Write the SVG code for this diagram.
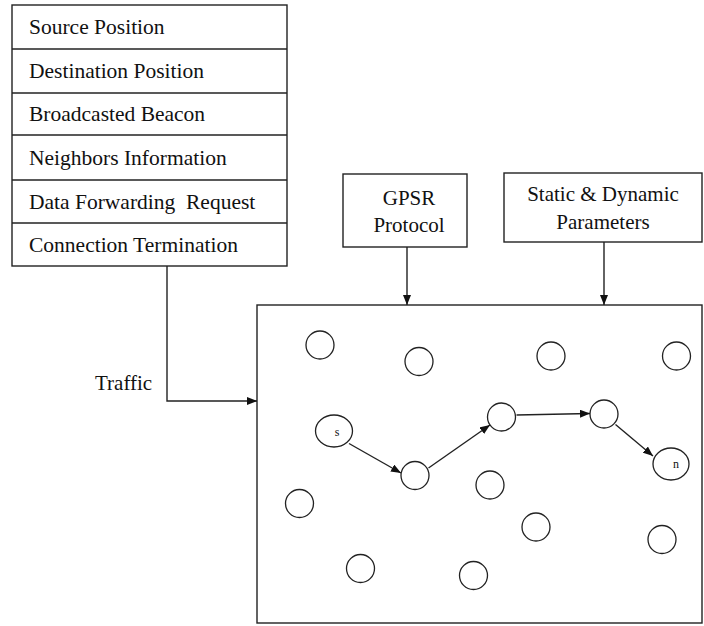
<svg xmlns="http://www.w3.org/2000/svg" width="704" height="626" viewBox="0 0 704 626">
<style>
.box{fill:#fff;stroke:#222;stroke-width:1.4}
.ln{fill:none;stroke:#222;stroke-width:1.4}
.nd{fill:#fff;stroke:#222;stroke-width:1.3}
.t{font-family:"Liberation Serif","Times New Roman",serif;font-size:21.5px;fill:#111}
.t2{font-family:"Liberation Serif","Times New Roman",serif;font-size:21px;fill:#111}
.c{text-anchor:middle}
.sm{font-family:"Liberation Serif","Times New Roman",serif;font-size:12px;fill:#111;text-anchor:middle}
</style>
<defs>
<marker id="ah" markerWidth="10" markerHeight="8" refX="10" refY="4" orient="auto" markerUnits="userSpaceOnUse">
<path d="M0,0 L10,4 L0,8 Z" fill="#111"/>
</marker>
</defs>
<g id="table">
<rect class="box" x="12" y="5" width="275" height="261"/>
<line class="ln" x1="12" y1="49" x2="287" y2="49"/>
<line class="ln" x1="12" y1="93" x2="287" y2="93"/>
<line class="ln" x1="12" y1="135" x2="287" y2="135"/>
<line class="ln" x1="12" y1="180" x2="287" y2="180"/>
<line class="ln" x1="12" y1="223" x2="287" y2="223"/>
<text class="t" x="29" y="34">Source Position</text>
<text class="t" x="29" y="78">Destination Position</text>
<text class="t" x="29" y="121">Broadcasted Beacon</text>
<text class="t" x="29" y="165">Neighbors Information</text>
<text class="t" x="29" y="209" xml:space="preserve">Data Forwarding  Request</text>
<text class="t" x="29" y="252">Connection Termination</text>
</g>
<g id="gpsr">
<rect class="box" x="343" y="174" width="124" height="73"/>
<text class="t2 c" x="409" y="205">GPSR</text>
<text class="t2 c" x="409" y="232">Protocol</text>
</g>
<g id="params">
<rect class="box" x="504" y="173" width="198" height="69"/>
<text class="t2 c" x="603" y="201">Static &amp; Dynamic</text>
<text class="t2 c" x="603" y="229">Parameters</text>
</g>
<g id="traffic-label">
<text class="t2" x="95" y="390">Traffic</text>
</g>
<g id="network">
<rect class="box" x="257" y="305" width="445" height="318"/>
</g>
<g id="nodes">
<circle class="nd" cx="320" cy="345" r="14"/>
<circle class="nd" cx="419" cy="361.5" r="14"/>
<circle class="nd" cx="551" cy="356" r="14"/>
<circle class="nd" cx="676.5" cy="356" r="14"/>
<g id="node-s"><ellipse class="nd" cx="334" cy="431" rx="18.5" ry="16"/><text class="sm" x="337" y="436">s</text></g>
<circle class="nd" cx="415" cy="475.5" r="14"/>
<circle class="nd" cx="501.5" cy="417" r="14"/>
<circle class="nd" cx="604" cy="414" r="14"/>
<g id="node-n"><ellipse class="nd" cx="671" cy="464" rx="18" ry="16"/><text class="sm" x="676" y="468">n</text></g>
<circle class="nd" cx="490" cy="485" r="14"/>
<circle class="nd" cx="299.5" cy="503.5" r="14"/>
<circle class="nd" cx="536" cy="527" r="14"/>
<circle class="nd" cx="662" cy="539.5" r="14"/>
<circle class="nd" cx="360.5" cy="568.5" r="14"/>
<circle class="nd" cx="473.5" cy="575.5" r="14"/>
</g>
<g id="connectors">
<line class="ln" x1="407" y1="247" x2="407" y2="305" marker-end="url(#ah)"/>
<line class="ln" x1="604" y1="242" x2="604" y2="305" marker-end="url(#ah)"/>
<polyline class="ln" points="167,266 167,401 257,401" marker-end="url(#ah)"/>
<line class="ln" x1="349" y1="443.5" x2="401" y2="473" marker-end="url(#ah)"/>
<line class="ln" x1="428.5" y1="468" x2="490" y2="425" marker-end="url(#ah)"/>
<line class="ln" x1="516.5" y1="415" x2="590" y2="413.5" marker-end="url(#ah)"/>
<line class="ln" x1="615.5" y1="424.5" x2="653" y2="456" marker-end="url(#ah)"/>
</g>
</svg>
